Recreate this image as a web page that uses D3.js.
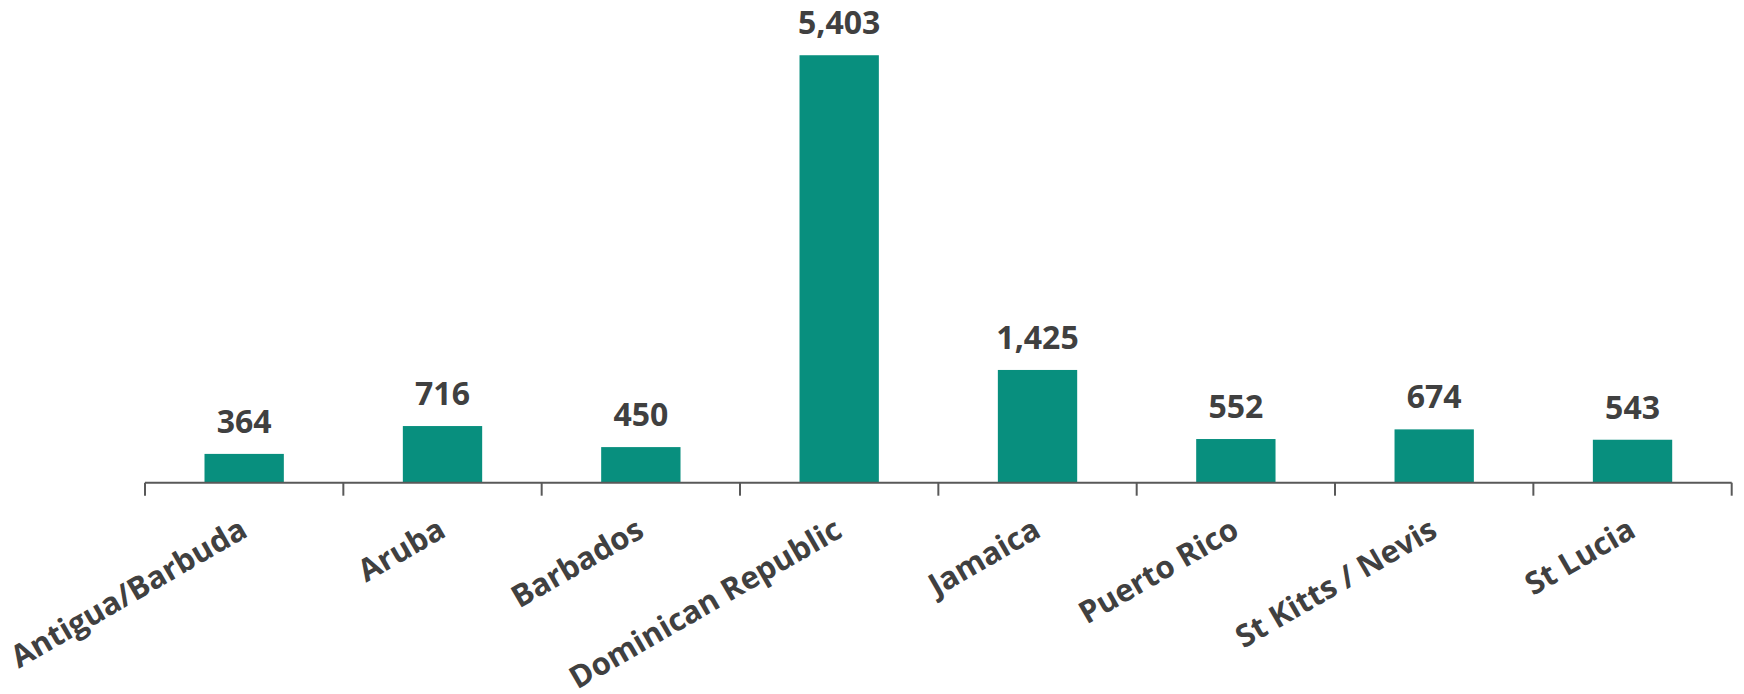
<!DOCTYPE html>
<html><head><meta charset="utf-8">
<script src="https://cdn.jsdelivr.net/npm/d3@7"></script>
<style>body{margin:0;background:#fff}svg{display:block}</style>
</head><body>
<svg id="chart" width="1744" height="694"></svg>
<script>
const categories = ["Antigua/Barbuda","Aruba","Barbados","Dominican Republic","Jamaica","Puerto Rico","St Kitts / Nevis","St Lucia"];
const values = [364,716,450,5403,1425,552,674,543];
const yMax = 6000;

(function(){
const svg = d3.select("#chart");
const plotLeft = 145, plotRight = 1731.7, base = 482.7, plotTop = 8;
const x = d3.scaleBand().domain(categories).range([plotLeft, plotRight]).paddingInner(0.6).paddingOuter(0.3);
const y = d3.scaleLinear().domain([0, yMax]).range([base, plotTop]);
const fmt = d3.format(",");
const font = "'Open Sans', sans-serif";
const textColor = "#404040";

svg.selectAll("rect.bar").data(values).join("rect")
  .attr("class","bar")
  .attr("x",(d,i)=>x(categories[i]))
  .attr("y",d=>y(d))
  .attr("width",x.bandwidth())
  .attr("height",d=>base-y(d))
  .attr("fill","#088F7E");

svg.selectAll("text.val").data(values).join("text")
  .attr("class","val")
  .attr("x",(d,i)=>x(categories[i])+x.bandwidth()/2)
  .attr("y",d=>y(d)-21)
  .attr("text-anchor","middle")
  .attr("font-family",font).attr("font-weight",700).attr("font-size",32)
  .attr("fill",textColor)
  .text(d=>fmt(d));

const step = x.step();
const tickPos = d3.range(categories.length+1).map(i=>plotLeft + i*step);
svg.append("line").attr("x1",plotLeft).attr("x2",plotRight).attr("y1",base).attr("y2",base)
  .attr("stroke","#595959").attr("stroke-width",2);
svg.selectAll("line.tick").data(tickPos).join("line").attr("class","tick")
  .attr("x1",d=>d).attr("x2",d=>d).attr("y1",base).attr("y2",base+13)
  .attr("stroke","#595959").attr("stroke-width",2);

svg.selectAll("text.cat").data(categories).join("text")
  .attr("class","cat")
  .attr("transform",d=>`translate(${x(d)+x.bandwidth()/2+5},${base+53}) rotate(-30)`)
  .attr("text-anchor","end")
  .attr("font-family",font).attr("font-weight",700).attr("font-size",31)
  .attr("fill",textColor)
  .text(d=>d);
})();
</script>
</body></html>
